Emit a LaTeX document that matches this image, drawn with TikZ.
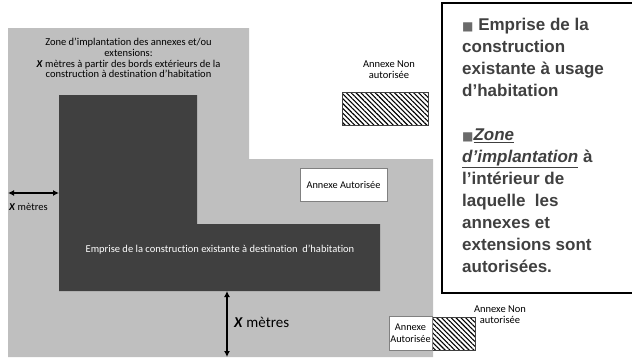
\documentclass[tikz,border=0pt]{standalone}
\usepackage{fontspec}
\setmainfont{Carlito}[Ligatures=NoCommon]
\newfontfamily\legendfont{Liberation Sans}
\newfontfamily\squarefont{DejaVu Sans}
\usepackage{tikz}
\usetikzlibrary{positioning,arrows.meta,patterns.meta}

\definecolor{zonegray}{HTML}{BFBFBF}
\definecolor{bldgray}{HTML}{404040}
\definecolor{legtext}{HTML}{404040}
\definecolor{legsquare}{HTML}{6B6B6B}

\newcommand{\legsq}{{\squarefont\color{legsquare}\fontsize{12}{12}\selectfont ■}}

\begin{document}
\begin{tikzpicture}[
    x=1pt, y=-1pt,
    plain/.style={
        draw = none,
        fill = none,
        inner sep = 0pt,
        align = center,
        font = \fontsize{10.5}{10.8}\selectfont
    },
    annexe/.style={
        draw = black!50,
        fill = white,
        line width = 0.8pt,
        inner sep = 1pt,
        align = center,
        font = \fontsize{10.3}{12}\selectfont
    },
    hatched/.style={
        draw = black!75,
        line width = 0.6pt,
        pattern = {Lines[angle=-45,distance=3.4pt,line width=1.1pt]},
        minimum height = 33pt
    },
    dist/.style={
        {Latex[length=6pt,width=6pt]}-{Latex[length=6pt,width=6pt]},
        line width = 1.6pt
    }
    ]
\useasboundingbox (0,0) rectangle (632,357);

% zone and building
\fill[zonegray] (8,28) -| (249,159) -| (433,357) -- (8,357) -- cycle;
\fill[bldgray] (59,95) -| (197,224) -| (380,291) -- (59,291) -- cycle;

\node[plain] (zoneTxt) at (128.5,58) {Zone d’implantation des annexes et/ou\\extensions:\\\textbf{\textit{X}} mètres à partir des bords extérieurs de la\\construction à destination d’habitation};
\node[plain, text=white] (bldTxt) at (220,250) {Emprise de la construction existante à destination~ d’habitation};

% distances
\coordinate (zoneW) at (8,193);
\coordinate (bldW) at (59,193);
\coordinate (bldS) at (227,291);
\coordinate (zoneS) at (227,357);
\draw[dist] (zoneW) -- (bldW);
\draw[dist] (bldS) -- (zoneS);
\node[plain, anchor=west] (xLeft) at (9,207) {\textbf{\textit{X}} mètres};
\node[plain, anchor=west, font=\fontsize{15}{17}\selectfont] (xBottom) at (234,322) {\textbf{\textit{X}} mètres};

% annexes
\node[annexe, minimum width=87pt, minimum height=33pt] (annexeIn) at (343.5,184.5) {Annexe Autorisée};
\node[hatched, minimum width=86pt] (annexeOut) at (385,108.5) {};
\node[plain] (annexeOutTxt) at (389,70) {Annexe Non\\autorisée};
\node[hatched, minimum width=45pt] (annexeOutB) at (452.5,333.5) {};
\node[annexe, minimum width=43pt, minimum height=34pt] (annexeInB) at (410.5,333) {Annexe\\Autorisée};
\node[plain] (annexeOutBTxt) at (500,315) {Annexe Non\\autorisée};

% legend
\draw[line width=1.6pt] (442,3) rectangle (640,293);
\node[anchor=north west, inner sep=0pt, align=left, text=legtext,
      font=\legendfont\bfseries\fontsize{17}{22}\selectfont] (legendTxt) at (462,18) {%
\legsq{} Emprise de la\\
construction\\
existante à usage\\
d’habitation\\[22pt]
\legsq\underline{\textit{Zone}}\\
\underline{\textit{d’implantation}} à\\
l’intérieur de\\
laquelle~ les\\
annexes et\\
extensions sont\\
autorisées.};
\end{tikzpicture}
\end{document}
